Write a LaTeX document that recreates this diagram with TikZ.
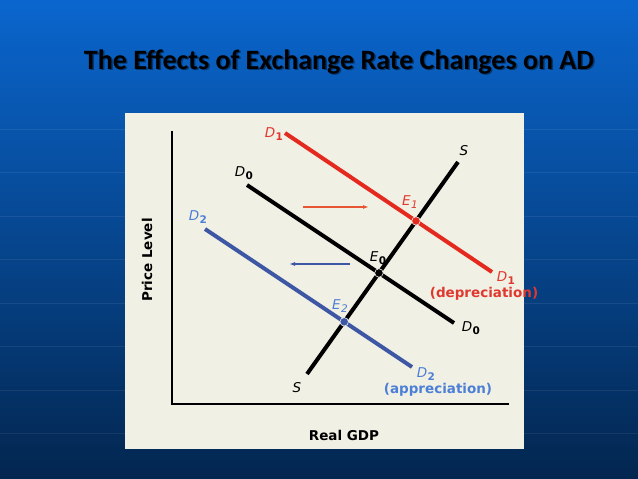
\documentclass[tikz,border=0pt]{standalone}
\usepackage{fontspec}
\setmainfont{DejaVu Sans}
\newfontfamily\titlefont{Carlito}
\usetikzlibrary{arrows.meta,intersections}
\definecolor{bgtop}{HTML}{0A66CE}
\definecolor{bgmid}{HTML}{0759B6}
\definecolor{bgbot}{HTML}{03264F}
\definecolor{panel}{HTML}{F1F0E4}
\definecolor{adred}{HTML}{E4291F}
\definecolor{redtext}{HTML}{E0382F}
\definecolor{redarrow}{HTML}{E85533}
\definecolor{adblue}{HTML}{3E57A5}
\definecolor{bluetext}{HTML}{4C7FD6}
\newcommand{\Dsub}[1]{\textit{D}\kern.4pt\raisebox{-.4ex}{\fontsize{10.5}{12}\selectfont\bfseries #1}}
\newcommand{\Esub}[1]{\textit{E}\kern.4pt\raisebox{-.4ex}{\fontsize{10.5}{12}\selectfont\itshape #1}}

\begin{document}
\begin{tikzpicture}[x=1pt,y=-1pt,>=Latex,
  every node/.style={font=\fontsize{13.5}{16}\selectfont,inner sep=0pt},
  curve/.style={line width=4pt},
  shiftarrow/.style={line width=1.2pt,-{Latex[length=6pt,width=4pt]}},
  eqpoint/.style={circle,inner sep=0pt,minimum size=8.5pt,draw=panel!60!white,line width=.6pt}]
\useasboundingbox (0,0) rectangle (638,479);
% slide background
\shade[top color=bgtop,middle color=bgmid,bottom color=bgbot] (0,0) rectangle (638,479);
\foreach \y in {129,172.5,...,440}
  \draw[white,opacity=.07,line width=.8pt] (0,\y) -- (638,\y);
% title
\node[font=\titlefont\bfseries\fontsize{28}{32}\selectfont,text=bgbot,opacity=.7] at (340.5,63.5) {The Effects of Exchange Rate Changes on AD};
\node[font=\titlefont\bfseries\fontsize{28}{32}\selectfont,text=black] (title) at (339,62) {The Effects of Exchange Rate Changes on AD};
% graph panel
\fill[panel] (125,113) rectangle (524,449);
\draw[line width=1.3pt] (172,131) |- (509,404);
\node[rotate=90,font=\bfseries\fontsize{13.5}{16}\selectfont] (ylab) at (147,260) {Price Level};
\node[font=\bfseries\fontsize{13.5}{16}\selectfont] (xlab) at (344,435) {Real GDP};
% curves
\coordinate (d1a) at (285,133); \coordinate (d1b) at (492,272);
\coordinate (d0a) at (247,185); \coordinate (d0b) at (454,323);
\coordinate (d2a) at (205,229); \coordinate (d2b) at (412,367);
\coordinate (sa) at (307,374); \coordinate (sb) at (458,162);
\draw[curve,adred,name path=d1] (d1a) -- (d1b);
\draw[curve,black,name path=d0] (d0a) -- (d0b);
\draw[curve,adblue,name path=d2] (d2a) -- (d2b);
\draw[curve,black,name path=s] (sa) -- (sb);
\path[name intersections={of=s and d1,by=e1}];
\path[name intersections={of=s and d0,by=e0}];
\path[name intersections={of=s and d2,by=e2}];
\node[eqpoint,fill=adred] (pe1) at (e1) {};
\node[eqpoint,fill=black] (pe0) at (e0) {};
\node[eqpoint,fill=adblue] (pe2) at (e2) {};
% shifts
\coordinate (ra) at (303,207); \coordinate (rb) at (369,207);
\coordinate (ba) at (350,264); \coordinate (bb) at (289,264);
\draw[shiftarrow,redarrow] (ra) -- (rb);
\draw[shiftarrow,adblue] (ba) -- (bb);
% labels
\node[text=redtext] (ld1a) at (274,134) {\Dsub{1}};
\node (ld0a) at (244,173) {\Dsub{0}};
\node[text=bluetext] (ld2a) at (198,217) {\Dsub{2}};
\node (lsb) at (464,151) {\textit{S}};
\node[text=redtext] (le1) at (410,202) {\Esub{1}};
\node (le0) at (378,258) {\textit{E}\kern.4pt\raisebox{-.4ex}{\fontsize{10.5}{12}\selectfont\bfseries 0}};
\node[text=bluetext] (le2) at (340,306) {\Esub{2}};
\node[text=redtext] (ld1b) at (506,278) {\Dsub{1}};
\node[text=redtext,font=\bfseries\fontsize{13.5}{16}\selectfont] (dep) at (484,294) {(depreciation)};
\node (ld0b) at (471,328) {\Dsub{0}};
\node[text=bluetext] (ld2b) at (426,374) {\Dsub{2}};
\node[text=bluetext,font=\bfseries\fontsize{13.5}{16}\selectfont] (app) at (438,390) {(appreciation)};
\node (lsa) at (297,388) {\textit{S}};
\end{tikzpicture}
\end{document}
